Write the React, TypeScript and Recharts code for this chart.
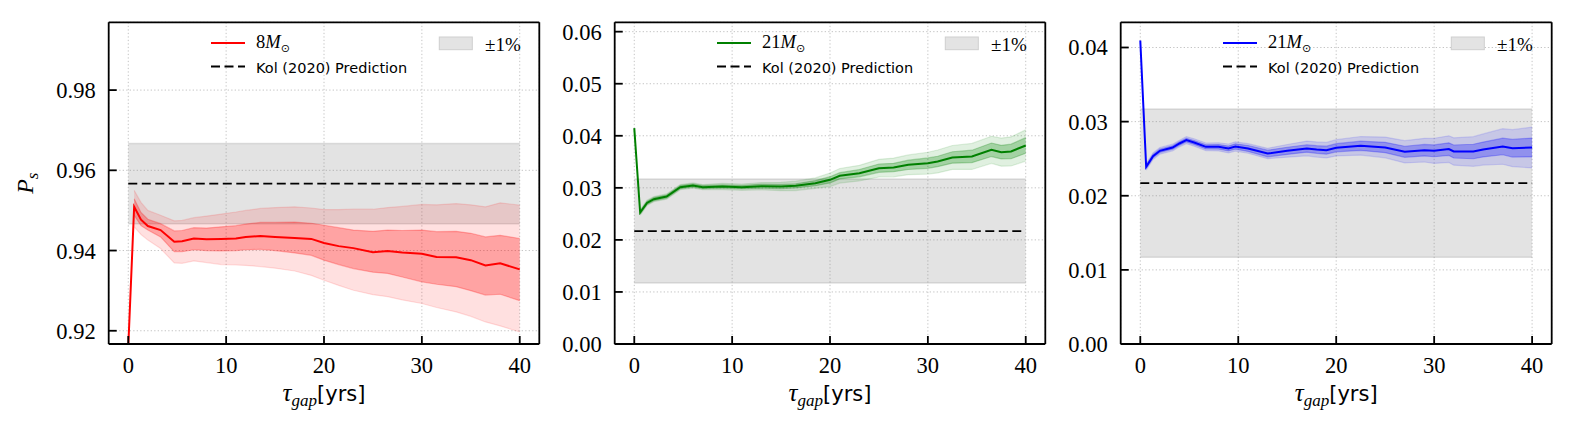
import React from 'react';
import { ComposedChart, Line, Area, XAxis, YAxis, CartesianGrid, Legend, ReferenceLine } from 'recharts';

// ---------- shared ----------
const xTicks = [0, 10, 20, 30, 40];
const xDomain = [-2, 42];
const bandHalfWidth = 0.01;

// ---------- panel 1 : 8 Msun ----------
const xs1 = [0, 0.6, 1.3, 2, 3.3, 4.7, 5.5, 6.7, 8, 9.5, 11, 12, 13.5, 15, 17, 18.7, 20, 21.5, 23, 25, 26.5, 28, 30, 31.5, 33.5, 35, 36.5, 38, 40];
const mean1 = [0.9160, 0.9509, 0.9477, 0.9461, 0.9451, 0.9422, 0.9423, 0.9430, 0.9428, 0.9429, 0.9430, 0.9434, 0.9436, 0.9434, 0.9431, 0.9429, 0.9419, 0.9411, 0.9406, 0.9396, 0.9399, 0.9395, 0.9392, 0.9384, 0.9383, 0.9376, 0.9363, 0.9368, 0.9353];
const innerHi1 = [null, 0.9529, 0.9495, 0.9478, 0.9467, 0.9449, 0.9450, 0.9457, 0.9456, 0.9459, 0.9462, 0.9466, 0.9470, 0.9470, 0.9471, 0.9468, 0.9463, 0.9457, 0.9451, 0.9448, 0.9451, 0.9450, 0.9451, 0.9447, 0.9448, 0.9443, 0.9434, 0.9438, 0.9430];
const innerLo1 = [null, 0.9488, 0.9462, 0.9451, 0.9434, 0.9397, 0.9397, 0.9402, 0.9400, 0.9399, 0.9400, 0.9402, 0.9403, 0.9400, 0.9394, 0.9388, 0.9376, 0.9365, 0.9355, 0.9346, 0.9343, 0.9334, 0.9322, 0.9316, 0.9310, 0.9300, 0.9289, 0.9291, 0.9275];
const outerHi1 = [null, 0.9550, 0.9520, 0.9500, 0.9488, 0.9474, 0.9475, 0.9482, 0.9486, 0.9491, 0.9496, 0.9500, 0.9505, 0.9507, 0.9509, 0.9506, 0.9502, 0.9502, 0.9503, 0.9503, 0.9507, 0.9510, 0.9515, 0.9514, 0.9517, 0.9514, 0.9509, 0.9519, 0.9513];
const outerLo1 = [null, 0.9459, 0.9440, 0.9426, 0.9405, 0.9369, 0.9368, 0.9374, 0.9370, 0.9365, 0.9364, 0.9363, 0.9360, 0.9356, 0.9349, 0.9338, 0.9326, 0.9313, 0.9301, 0.9290, 0.9285, 0.9277, 0.9268, 0.9258, 0.9247, 0.9236, 0.9222, 0.9212, 0.9197];
const pred1 = 0.9567;
const yTicks1 = [0.92, 0.94, 0.96, 0.98];
const yDomain1 = [0.9167, 0.9969];

// ---------- panel 2 : 21 Msun (green) ----------
const xs2 = [0, 0.6, 1.3, 2, 3.3, 4.7, 6, 7, 9, 11, 13, 15, 16.5, 18.5, 20, 21, 23, 25, 26.5, 28, 30, 31, 32.5, 34.5, 36.5, 37.5, 38.5, 40];
const mean2 = [0.04147, 0.02526, 0.0271, 0.02782, 0.02833, 0.03013, 0.03045, 0.03013, 0.03026, 0.03013, 0.03032, 0.03026, 0.03038, 0.0309, 0.03154, 0.03231, 0.03282, 0.03378, 0.03391, 0.03442, 0.03474, 0.03506, 0.03583, 0.03603, 0.03731, 0.03686, 0.03699, 0.03814];
const innerLo2 = [null, 0.02496, 0.0268, 0.02752, 0.02803, 0.02983, 0.03015, 0.02983, 0.02996, 0.02983, 0.02992, 0.02986, 0.02998, 0.0304, 0.03094, 0.03171, 0.03212, 0.03298, 0.03311, 0.03352, 0.03374, 0.03406, 0.03473, 0.03483, 0.03601, 0.03556, 0.03559, 0.03664];
const innerHi2 = [null, 0.02556, 0.0274, 0.02812, 0.02863, 0.03043, 0.03075, 0.03043, 0.03056, 0.03043, 0.03072, 0.03066, 0.03078, 0.0314, 0.03214, 0.03291, 0.03352, 0.03458, 0.03471, 0.03532, 0.03574, 0.03606, 0.03693, 0.03723, 0.03861, 0.03816, 0.03839, 0.03964];
const outerLo2 = [null, 0.02476, 0.0266, 0.02732, 0.02783, 0.02963, 0.02995, 0.02963, 0.02966, 0.02953, 0.02962, 0.02946, 0.02948, 0.0299, 0.03024, 0.03091, 0.03132, 0.03208, 0.03211, 0.03252, 0.03264, 0.03286, 0.03353, 0.03353, 0.03471, 0.03416, 0.03419, 0.03514];
const outerHi2 = [null, 0.02576, 0.0276, 0.02832, 0.02883, 0.03063, 0.03095, 0.03063, 0.03086, 0.03073, 0.03102, 0.03106, 0.03128, 0.0319, 0.03284, 0.03371, 0.03432, 0.03548, 0.03571, 0.03632, 0.03684, 0.03726, 0.03813, 0.03853, 0.03991, 0.03956, 0.03979, 0.04114];
const pred2 = 0.0217;
const yTicks2 = [0, 0.01, 0.02, 0.03, 0.04, 0.05, 0.06];
const yDomain2 = [0, 0.0618];

// ---------- panel 3 : 21 Msun (blue) ----------
const xs3 = [0, 0.6, 1.3, 2, 3.3, 4, 4.7, 5.5, 6.7, 8, 9, 9.7, 11, 13, 15, 17, 18, 19, 20, 22.5, 25, 27, 29, 30, 31.5, 32, 34, 35, 37, 38, 40];
const mean3 = [0.04095, 0.0239, 0.02534, 0.02606, 0.02651, 0.02705, 0.0275, 0.02719, 0.0266, 0.0266, 0.02638, 0.02665, 0.02638, 0.0257, 0.02606, 0.02638, 0.02624, 0.02615, 0.02647, 0.02674, 0.02651, 0.02593, 0.02615, 0.02606, 0.02629, 0.02597, 0.02597, 0.02624, 0.02665, 0.02642, 0.02651];
const innerLo3 = [null, 0.02367, 0.02511, 0.02583, 0.02628, 0.02682, 0.02725, 0.02693, 0.02632, 0.0263, 0.02605, 0.0263, 0.02598, 0.02525, 0.02558, 0.02588, 0.02572, 0.02561, 0.02592, 0.02612, 0.02581, 0.02518, 0.02537, 0.02526, 0.02544, 0.02509, 0.02499, 0.02524, 0.02553, 0.02522, 0.02524];
const innerHi3 = [null, 0.02413, 0.02557, 0.02629, 0.02674, 0.02728, 0.02775, 0.02745, 0.02688, 0.0269, 0.02671, 0.027, 0.02678, 0.02615, 0.02654, 0.02688, 0.02676, 0.02669, 0.02702, 0.02736, 0.02721, 0.02668, 0.02693, 0.02686, 0.02714, 0.02685, 0.02695, 0.02724, 0.02777, 0.02762, 0.02778];
const outerLo3 = [null, 0.02345, 0.02489, 0.02561, 0.02606, 0.0266, 0.02702, 0.02669, 0.02608, 0.02605, 0.02578, 0.02603, 0.02573, 0.025, 0.02521, 0.02538, 0.02522, 0.0251, 0.02537, 0.02549, 0.02511, 0.02443, 0.02455, 0.02436, 0.02449, 0.02412, 0.02397, 0.02414, 0.02425, 0.02392, 0.02376];
const outerHi3 = [null, 0.02435, 0.02579, 0.02651, 0.02696, 0.0275, 0.02798, 0.02769, 0.02712, 0.02715, 0.02698, 0.02727, 0.02703, 0.0264, 0.02691, 0.02738, 0.02726, 0.0272, 0.02757, 0.02799, 0.02791, 0.02743, 0.02775, 0.02776, 0.02809, 0.02782, 0.02797, 0.02834, 0.02905, 0.02892, 0.02926];
const pred3 = 0.0217;
const yTicks3 = [0, 0.01, 0.02, 0.03, 0.04];
const yDomain3 = [0, 0.0434];

function buildRows(xs, mean, ilo, ihi, olo, ohi, pred) {
  return xs.map((x, i) => ({
    x,
    mean: mean[i],
    inner: ilo[i] == null ? null : [ilo[i], ihi[i]],
    outer: olo[i] == null ? null : [olo[i], ohi[i]],
    band: [pred - bandHalfWidth, pred + bandHalfWidth],
    pred,
  }));
}

const rows1 = buildRows(xs1, mean1, innerLo1, innerHi1, outerLo1, outerHi1, pred1);
const rows2 = buildRows(xs2, mean2, innerLo2, innerHi2, outerLo2, outerHi2, pred2);
const rows3 = buildRows(xs3, mean3, innerLo3, innerHi3, outerLo3, outerHi3, pred3);

const SERIF = 'Liberation Serif';
const SANS = 'DejaVu Sans';
const PLOT_TOP = 22.3;
const CHART_H = 437;
const X_AXIS_H = 93;
const TICK_FONT = 22.5;
const AXIS_STROKE = { stroke: '#000', strokeWidth: 1.8 };

const SerifTick = (props: any) => {
  const { x, y, payload, textAnchor, orientation } = props;
  const label = orientation === 'left' ? payload.value.toFixed(2) : String(payload.value);
  const dy = orientation === 'left' ? '0.355em' : '0.71em';
  return (
    <text x={x} y={y} dy={dy} textAnchor={textAnchor} fill="#000"
      style={{ fontFamily: SERIF, fontSize: TICK_FONT }}>
      {label}
    </text>
  );
};

const renderXLabel = (props: any) => {
  const vb = props.viewBox || {};
  const cx = vb.x + vb.width / 2;
  const y = vb.y + 56.7;
  return (
    <text x={cx} y={y} textAnchor="middle" fill="#000">
      <tspan style={{ fontFamily: SERIF, fontStyle: 'italic', fontSize: 25 }}>τ</tspan>
      <tspan style={{ fontFamily: SERIF, fontStyle: 'italic', fontSize: 17 }} dy={5}>gap</tspan>
      <tspan style={{ fontFamily: SANS, fontSize: 21 }} dy={-5}>[yrs]</tspan>
    </text>
  );
};

const renderYLabel = (props: any) => {
  const vb = props.viewBox || {};
  const cx = 33;
  const cy = vb.y + vb.height / 2;
  return (
    <text x={cx} y={cy} textAnchor="middle" fill="#000" transform={`rotate(-90 ${cx} ${cy})`}>
      <tspan style={{ fontFamily: SERIF, fontStyle: 'italic', fontSize: 24 }}>P</tspan>
      <tspan style={{ fontFamily: SERIF, fontStyle: 'italic', fontSize: 17 }} dy={5}>s</tspan>
    </text>
  );
};

function makeLegend(color: string, massNumber: string, plotW: number) {
  return () => (
    <svg width={plotW} height={62} style={{ display: 'block', overflow: 'visible' }}>
      <line x1={102} x2={136} y1={21} y2={21} stroke={color} strokeWidth={2} />
      <text x={147} y={26} fill="#000" style={{ fontFamily: SERIF, fontSize: 18.5 }}>
        {massNumber}
        <tspan style={{ fontStyle: 'italic' }}>M</tspan>
        <tspan style={{ fontSize: 11, fontFamily: SANS }} dy={4}>⊙</tspan>
      </text>
      <line x1={102} x2={136} y1={44.4} y2={44.4} stroke="#000" strokeWidth={2} strokeDasharray="9 4.5" />
      <text x={147} y={51} fill="#000" style={{ fontFamily: SANS, fontSize: 14.5 }}>Kol (2020) Prediction</text>
      <rect x={330.3} y={15} width={33} height={12.7} fill="#e3e3e3" stroke="#cfcfcf" strokeWidth={1} />
      <text x={376} y={29} fill="#000" style={{ fontFamily: SERIF, fontSize: 19 }}>±1%</text>
    </svg>
  );
}

function Panel({ left, width, yAxisWidth, rightMargin, rows, color, yDomain, yTicks, massNumber, showYLabel }) {
  const plotW = width - yAxisWidth - rightMargin;
  return (
    <div style={{ position: 'absolute', left, top: 0, width, height: CHART_H }}>
      <ComposedChart
        width={width}
        height={CHART_H}
        data={rows}
        margin={{ top: PLOT_TOP, right: rightMargin, bottom: 0, left: 0 }}
      >
        <CartesianGrid stroke="#c4c4c4" strokeDasharray="1.3 2.2" strokeWidth={1} />
        <XAxis
          dataKey="x"
          type="number"
          domain={xDomain}
          ticks={xTicks}
          interval={0}
          allowDataOverflow
          height={X_AXIS_H}
          tickSize={-8}
          tickMargin={21}
          axisLine={AXIS_STROKE}
          tickLine={AXIS_STROKE}
          tick={<SerifTick />}
          label={renderXLabel}
        />
        <YAxis
          type="number"
          domain={yDomain}
          ticks={yTicks}
          interval={0}
          allowDataOverflow
          width={yAxisWidth}
          tickSize={-8}
          tickMargin={21}
          axisLine={AXIS_STROKE}
          tickLine={AXIS_STROKE}
          tick={<SerifTick />}
          label={showYLabel ? renderYLabel : undefined}
        />
        <Area
          dataKey="band"
          type="linear"
          fill="#808080"
          fillOpacity={0.22}
          stroke="#808080"
          strokeOpacity={0.22}
          strokeWidth={1.5}
          isAnimationActive={false}
          dot={false}
          activeDot={false}
        />
        <Area
          dataKey="outer"
          type="linear"
          fill={color}
          fillOpacity={0.12}
          stroke={color}
          strokeOpacity={0.12}
          strokeWidth={1.2}
          isAnimationActive={false}
          dot={false}
          activeDot={false}
        />
        <Area
          dataKey="inner"
          type="linear"
          fill={color}
          fillOpacity={0.27}
          stroke={color}
          strokeOpacity={0.25}
          strokeWidth={1.2}
          isAnimationActive={false}
          dot={false}
          activeDot={false}
        />
        <Line
          dataKey="pred"
          type="linear"
          stroke="#000"
          strokeWidth={1.8}
          strokeDasharray="9 4.5"
          dot={false}
          activeDot={false}
          isAnimationActive={false}
        />
        <Line
          dataKey="mean"
          type="linear"
          stroke={color}
          strokeWidth={2}
          dot={false}
          activeDot={false}
          isAnimationActive={false}
        />
        <ReferenceLine y={yDomain[1]} stroke="#000" strokeWidth={1.8} ifOverflow="visible" />
        <ReferenceLine x={xDomain[1]} stroke="#000" strokeWidth={1.8} ifOverflow="visible" />
        <Legend
          layout="horizontal"
          verticalAlign="middle"
          align="center"
          wrapperStyle={{ position: 'absolute', left: yAxisWidth, top: PLOT_TOP, width: plotW, height: 62 }}
          content={makeLegend(color, massNumber, plotW)}
        />
      </ComposedChart>
    </div>
  );
}

export default function App() {
  return (
    <div style={{ position: 'absolute', left: 0, top: 0, width: 1575, height: 437, background: '#fff', overflow: 'hidden' }}>
      <Panel left={0} width={560} yAxisWidth={108.7} rightMargin={20.7} rows={rows1} color="#ff0000"
        yDomain={yDomain1} yTicks={yTicks1} massNumber="8" showYLabel />
      <Panel left={540} width={520} yAxisWidth={74.7} rightMargin={14.7} rows={rows2} color="#008000"
        yDomain={yDomain2} yTicks={yTicks2} massNumber="21" showYLabel={false} />
      <Panel left={1060} width={515} yAxisWidth={60.7} rightMargin={23.3} rows={rows3} color="#0000ff"
        yDomain={yDomain3} yTicks={yTicks3} massNumber="21" showYLabel={false} />
    </div>
  );
}
